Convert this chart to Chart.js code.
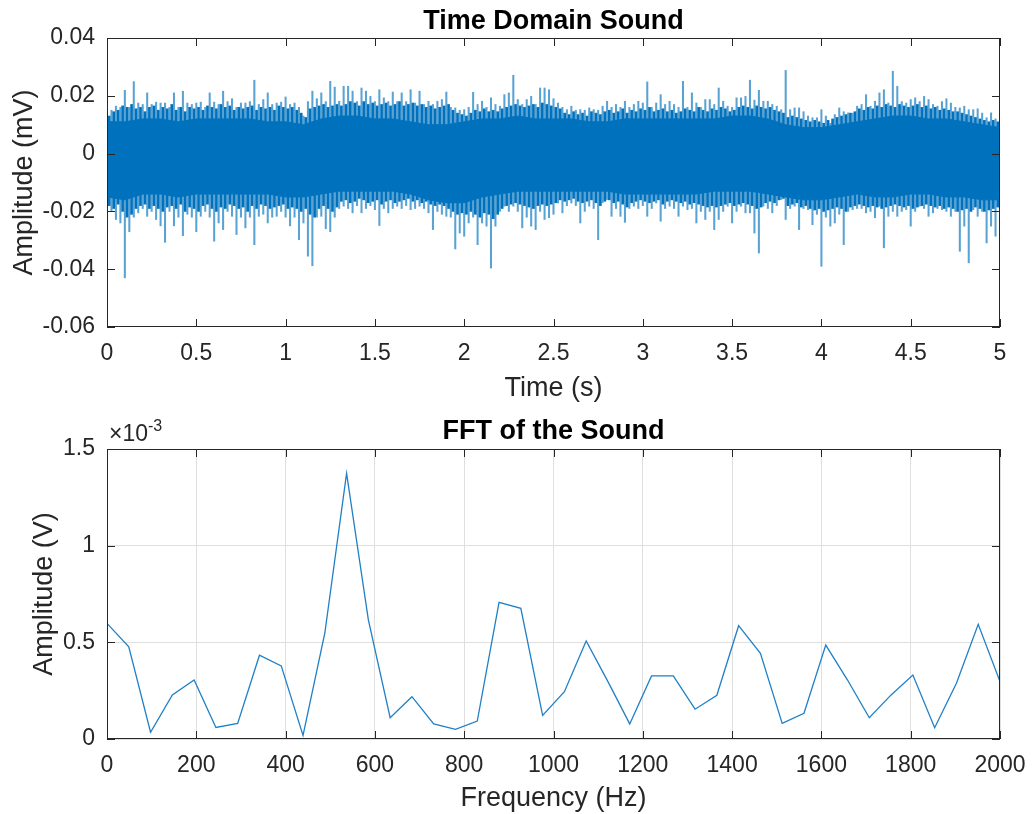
<!DOCTYPE html>
<html>
<head>
<meta charset="utf-8">
<script src="https://cdn.jsdelivr.net/npm/chart.js@4/dist/chart.umd.min.js"></script>
<style>
  html, body { margin: 0; padding: 0; background: #fff; }
  #wrap { position: relative; width: 1032px; height: 814px; }
  #wrap canvas { position: absolute; left: 0; }
  #time-chart { top: 0; }
  #fft-chart { top: 410px; }
</style>
</head>
<body>
<div id="wrap">
  <canvas id="time-chart" width="1032" height="410"></canvas>
  <canvas id="fft-chart" width="1032" height="404"></canvas>
</div>
<script>
// time domain: solid core of the signal (every 0.1 s), dense fringe (every 0.025 s, half step offset)
// and the spike extremes (every 0.025 s)
const coreStep = 0.1
const coreHi = [
  0.011, 0.011, 0.012, 0.012, 0.011, 0.012, 0.012, 0.012, 0.012, 0.011, 0.011, 0.010, 0.012,
  0.013, 0.013, 0.012, 0.012, 0.011, 0.010, 0.010, 0.011, 0.012, 0.012, 0.013, 0.012, 0.012,
  0.012, 0.011, 0.011, 0.012, 0.012, 0.012, 0.012, 0.012, 0.012, 0.013, 0.013, 0.012,
  0.010, 0.009, 0.009, 0.010, 0.011, 0.012, 0.013, 0.013, 0.012, 0.012, 0.011, 0.010, 0.009
]
const coreLo = [
  -0.015, -0.016, -0.014, -0.014, -0.015, -0.014, -0.014, -0.014, -0.014, -0.014, -0.015, -0.015, -0.014,
  -0.013, -0.013, -0.013, -0.013, -0.014, -0.016, -0.017, -0.017, -0.015, -0.014, -0.013, -0.013, -0.013,
  -0.013, -0.013, -0.013, -0.014, -0.014, -0.014, -0.014, -0.014, -0.013, -0.013, -0.013, -0.014,
  -0.015, -0.016, -0.016, -0.015, -0.014, -0.015, -0.015, -0.014, -0.014, -0.015, -0.015, -0.016, -0.016
]
const fringeHi = [
  0.013, 0.0145, 0.015, 0.0165, 0.016, 0.017, 0.0155, 0.016, 0.0145, 0.016,
  0.0165, 0.015, 0.016, 0.0155, 0.017, 0.015, 0.016, 0.0145, 0.016, 0.0155,
  0.016, 0.015, 0.0165, 0.016, 0.0155, 0.017, 0.016, 0.0165, 0.015, 0.016,
  0.0155, 0.016, 0.0165, 0.015, 0.016, 0.0155, 0.016, 0.015, 0.0165, 0.016,
  0.0155, 0.016, 0.015, 0.014, 0.0125, 0.0155, 0.016, 0.0165, 0.017, 0.016,
  0.0165, 0.017,
  0.0165, 0.017, 0.018, 0.0175, 0.0165, 0.018, 0.017, 0.0175, 0.0165, 0.017,
  0.0175, 0.0165, 0.017, 0.018, 0.0165, 0.017, 0.0175, 0.0165, 0.017, 0.016,
  0.0165, 0.0155, 0.016, 0.0165, 0.017, 0.015, 0.014, 0.0135, 0.013, 0.014,
  0.015, 0.0145, 0.0155, 0.0145, 0.015, 0.0145, 0.0155, 0.016, 0.0165, 0.017,
  0.0165, 0.016, 0.0165, 0.017, 0.016, 0.0175, 0.017, 0.0165, 0.016, 0.0155,
  0.014, 0.0135, 0.0145, 0.0135, 0.014, 0.013, 0.0145, 0.014, 0.0135, 0.0145,
  0.015, 0.014, 0.0145, 0.0155, 0.014, 0.015, 0.0145, 0.0155, 0.015, 0.016,
  0.0145, 0.015, 0.0155, 0.0145, 0.015, 0.014, 0.0145, 0.0155, 0.015, 0.0145,
  0.016, 0.015, 0.0145, 0.0155, 0.015, 0.016, 0.0155, 0.0145, 0.015, 0.016,
  0.0165, 0.016, 0.0155, 0.0165, 0.016, 0.0155, 0.016, 0.015, 0.0145, 0.014,
  0.0125, 0.013, 0.0125, 0.012, 0.0115, 0.011, 0.0115, 0.011, 0.0105, 0.0115,
  0.012, 0.0125, 0.013, 0.0135, 0.014, 0.0145, 0.0155, 0.015, 0.016, 0.0155,
  0.0165, 0.016, 0.017, 0.0165, 0.016, 0.017, 0.0165, 0.016, 0.0165, 0.017,
  0.016, 0.0165, 0.0155, 0.016, 0.015, 0.0155, 0.015, 0.0145, 0.0145, 0.014,
  0.0135, 0.013, 0.0125, 0.012, 0.0115, 0.011, 0.0115, 0.011
]
const fringeLo = [
  -0.018, -0.019, -0.0175, -0.02, -0.022, -0.021, -0.019, -0.018, -0.0175, -0.019,
  -0.018, -0.019, -0.02, -0.0185, -0.018, -0.019, -0.0175, -0.02, -0.0185, -0.019,
  -0.02, -0.018, -0.0175, -0.019, -0.02, -0.0185, -0.019, -0.0175, -0.018, -0.019,
  -0.0185, -0.02, -0.018, -0.019, -0.0175, -0.018, -0.019, -0.0185, -0.018, -0.0175,
  -0.019, -0.0185, -0.019, -0.02, -0.019, -0.021, -0.022, -0.019, -0.018, -0.019,
  -0.02, -0.0185,
  -0.0165, -0.016, -0.017, -0.0165, -0.0155, -0.016, -0.017, -0.0165, -0.016, -0.0175,
  -0.0165, -0.016, -0.017, -0.0165, -0.016, -0.0155, -0.0165, -0.016, -0.017, -0.0165,
  -0.0175, -0.018, -0.0175, -0.018, -0.019, -0.02, -0.021, -0.0205, -0.021, -0.02,
  -0.021, -0.022, -0.0205, -0.021, -0.0225, -0.021, -0.019, -0.018, -0.0175, -0.017,
  -0.0175, -0.018, -0.0185, -0.019, -0.018, -0.0175, -0.018, -0.0175, -0.017, -0.016,
  -0.0165, -0.016, -0.0155, -0.0165, -0.017, -0.0165, -0.016, -0.017, -0.018, -0.0165,
  -0.016, -0.017, -0.0165, -0.0175, -0.0185, -0.017, -0.0165, -0.016, -0.0165, -0.017,
  -0.0165, -0.016, -0.0175, -0.0165, -0.016, -0.0165, -0.017, -0.0165, -0.0175, -0.017,
  -0.0175, -0.018, -0.0185, -0.018, -0.0185, -0.018, -0.0175, -0.017, -0.018, -0.0175,
  -0.017, -0.0175, -0.018, -0.019, -0.0185, -0.017, -0.0165, -0.017, -0.016, -0.0155,
  -0.018, -0.0175, -0.017, -0.0185, -0.018, -0.019, -0.0195, -0.019, -0.02, -0.0195,
  -0.019, -0.0185, -0.019, -0.02, -0.0185, -0.018, -0.0175, -0.018, -0.0185, -0.018,
  -0.0185, -0.019, -0.0185, -0.018, -0.0175, -0.018, -0.0185, -0.018, -0.019, -0.0185,
  -0.018, -0.0175, -0.018, -0.0185, -0.018, -0.019, -0.0185, -0.019, -0.02, -0.0195,
  -0.019, -0.02, -0.0185, -0.019, -0.02, -0.0195, -0.019, -0.0185
]
const spikeStep = 0.025
const spikeHi = [
  0.014, 0.015, 0.0164, 0.016, 0.0219, 0.016, 0.0249, 0.0175, 0.017, 0.021, 0.017, 0.0178, 0.0175,
  0.0175, 0.016, 0.021, 0.016, 0.0216, 0.0175, 0.017, 0.0175, 0.0178, 0.016, 0.021, 0.0178, 0.017,
  0.0216, 0.018, 0.019, 0.016, 0.0175, 0.0175, 0.018, 0.0254, 0.017, 0.0187, 0.021, 0.017, 0.0175,
  0.0178, 0.0196, 0.017, 0.0175, 0.016, 0.013, 0.018, 0.0216, 0.019, 0.021, 0.018, 0.025, 0.023,
  0.0181, 0.0233, 0.0233, 0.0216, 0.018, 0.0227, 0.0216, 0.0198, 0.018, 0.0221, 0.0193, 0.018, 0.0213,
  0.018, 0.021, 0.018, 0.0221, 0.0175, 0.0216, 0.017, 0.0181, 0.017, 0.0181, 0.0187, 0.0213, 0.016,
  0.0158, 0.015, 0.0152, 0.016, 0.0212, 0.017, 0.0181, 0.016, 0.0193, 0.017, 0.0164, 0.0204, 0.021,
  0.0271, 0.0187, 0.017, 0.0187, 0.0198, 0.017, 0.0227, 0.0227, 0.0221, 0.019, 0.0175,
  0.016, 0.0152, 0.0164, 0.015, 0.0152, 0.015, 0.0158, 0.0152, 0.015, 0.0164, 0.0181, 0.016, 0.017,
  0.016, 0.0181, 0.016, 0.017, 0.0181, 0.0175, 0.0248, 0.016, 0.0175, 0.0204, 0.017, 0.0181, 0.017,
  0.016, 0.025, 0.016, 0.021, 0.0175, 0.016, 0.0187, 0.0187, 0.017, 0.0227, 0.0181, 0.0164, 0.016,
  0.0193, 0.0193, 0.0198, 0.0254, 0.0185, 0.0219, 0.0181, 0.0181, 0.017, 0.0164, 0.0152,
  0.0288, 0.0152, 0.0158, 0.0158, 0.0145, 0.013, 0.0124, 0.0124, 0.0152, 0.013, 0.0105, 0.0135, 0.0158,
  0.0145, 0.0141, 0.014, 0.0164, 0.017, 0.0204, 0.0164, 0.0181, 0.021, 0.0221, 0.0175, 0.0285, 0.0233,
  0.018, 0.0175, 0.0187, 0.0193, 0.018, 0.0198, 0.0187, 0.017, 0.0164, 0.018, 0.019, 0.0175, 0.016,
  0.0158, 0.0164, 0.0152, 0.0152, 0.0155, 0.014, 0.0124, 0.0141, 0.012, 0.0095
]
const spikeLo = [
  -0.027, -0.02, -0.0228, -0.024, -0.043, -0.027, -0.022, -0.0205, -0.019, -0.0217, -0.02, -0.0228, -0.025,
  -0.0307, -0.02, -0.025, -0.022, -0.0284, -0.021, -0.022, -0.027, -0.0217, -0.02, -0.022, -0.0303, -0.024,
  -0.0263, -0.02, -0.0217, -0.028, -0.022, -0.0257, -0.022, -0.0315, -0.0217, -0.021, -0.024, -0.022, -0.0217,
  -0.02, -0.022, -0.025, -0.022, -0.0298, -0.024, -0.0355, -0.0388, -0.022, -0.0217, -0.026, -0.027, -0.022,
  -0.019, -0.0182, -0.019, -0.0205, -0.018, -0.0205, -0.019, -0.018, -0.0194, -0.0249, -0.019, -0.0205, -0.019,
  -0.0182, -0.019, -0.018, -0.0194, -0.019, -0.0182, -0.019, -0.0205, -0.0263, -0.02, -0.021, -0.0217, -0.022,
  -0.033, -0.0275, -0.0286, -0.024, -0.022, -0.0315, -0.024, -0.0251, -0.0396, -0.0251, -0.02, -0.0182, -0.02,
  -0.0182, -0.02, -0.0257, -0.022, -0.0251, -0.0263, -0.02, -0.0228, -0.0222, -0.021, -0.0171,
  -0.0205, -0.018, -0.0171, -0.018, -0.024, -0.02, -0.0182, -0.019, -0.0298, -0.017, -0.0159, -0.0217, -0.019,
  -0.0217, -0.0238, -0.019, -0.0182, -0.019, -0.018, -0.0217, -0.019, -0.0171, -0.0234, -0.019, -0.0182, -0.019,
  -0.0217, -0.0182, -0.0194, -0.019, -0.024, -0.02, -0.0228, -0.02, -0.0263, -0.0228, -0.02, -0.0182, -0.024,
  -0.02, -0.0182, -0.0205, -0.0205, -0.0275, -0.0344, -0.0182, -0.019, -0.0205, -0.018, -0.0159,
  -0.0228, -0.019, -0.0182, -0.0263, -0.019, -0.0194, -0.0246, -0.021, -0.039, -0.022, -0.0251, -0.024, -0.021,
  -0.0315, -0.02, -0.0194, -0.019, -0.019, -0.0205, -0.02, -0.0222, -0.0182, -0.0326, -0.0217, -0.02, -0.0217,
  -0.02, -0.0194, -0.0251, -0.02, -0.0182, -0.019, -0.0217, -0.0205, -0.019, -0.0194, -0.02, -0.0217, -0.02,
  -0.0338, -0.0251, -0.0378, -0.0194, -0.0217, -0.02, -0.0309, -0.0251, -0.0286, -0.02
]
const timeTicks = [0, 0.5, 1, 1.5, 2, 2.5, 3, 3.5, 4, 4.5, 5]
const ampTicks = [-0.06, -0.04, -0.02, 0, 0.02, 0.04]

// FFT: 42 bins from 0 to 2000 Hz, amplitudes in units of 1e-3 V
const fftBinHz = 2000 / 41
const fftAmp = [
  0.598, 0.477, 0.035, 0.228, 0.305, 0.060, 0.081, 0.433, 0.378, 0.019, 0.547,
  1.374, 0.616, 0.110, 0.219, 0.078, 0.050, 0.093, 0.707, 0.676, 0.122,
  0.245, 0.507, 0.297, 0.078, 0.326, 0.326, 0.154, 0.226, 0.586, 0.443,
  0.081, 0.133, 0.486, 0.305, 0.110, 0.228, 0.331, 0.058, 0.288, 0.593, 0.297
]
const freqTicks = [0, 200, 400, 600, 800, 1000, 1200, 1400, 1600, 1800, 2000]
const fftTicks = [0, 0.5, 1, 1.5]

const FONT = "'Liberation Sans', Arial, Helvetica, sans-serif"
const INK = '#262626'
const BLUE = '#0072BD'

const coreTime = coreHi.map((v, i) => +(i * coreStep).toFixed(4))
const fringeTime = fringeHi.map((v, i) => +((i + 0.5) * spikeStep).toFixed(4))
const spikeTime = spikeHi.map((v, i) => +(i * spikeStep).toFixed(4))
const fftFreq = fftAmp.map((v, i) => i * fftBinHz)

// matlab style box, inward ticks on all four sides, titles and labels
const matlabAxes = {
  id: 'matlabAxes',
  afterDraw(chart, args, opts) {
    const { ctx, chartArea: a, scales: { x, y } } = chart
    const tick = 8
    ctx.save()
    ctx.strokeStyle = INK
    ctx.lineWidth = 1
    ctx.beginPath()
    x.ticks.forEach(t => {
      const px = Math.round(x.getPixelForValue(t.value)) + 0.5
      ctx.moveTo(px, a.bottom)
      ctx.lineTo(px, a.bottom - tick)
      ctx.moveTo(px, a.top)
      ctx.lineTo(px, a.top + tick)
    })
    y.ticks.forEach(t => {
      const py = Math.round(y.getPixelForValue(t.value)) + 0.5
      ctx.moveTo(a.left, py)
      ctx.lineTo(a.left + tick, py)
      ctx.moveTo(a.right, py)
      ctx.lineTo(a.right - tick, py)
    })
    ctx.stroke()
    ctx.strokeRect(Math.round(a.left) + 0.5, Math.round(a.top) + 0.5,
      Math.round(a.width) - 1, Math.round(a.height) - 1)

    const cx = (a.left + a.right) / 2
    ctx.fillStyle = '#000'
    ctx.font = `bold 27px ${FONT}`
    ctx.textAlign = 'center'
    ctx.textBaseline = 'alphabetic'
    ctx.fillText(opts.title, cx, opts.titleY)

    ctx.fillStyle = INK
    ctx.font = `27px ${FONT}`
    ctx.fillText(opts.xlabel, cx, opts.xlabelY)

    ctx.save()
    ctx.translate(opts.ylabelX, (a.top + a.bottom) / 2)
    ctx.rotate(-Math.PI / 2)
    ctx.fillText(opts.ylabel, 0, 0)
    ctx.restore()

    if (opts.exponent) {
      ctx.textAlign = 'left'
      ctx.font = `23px ${FONT}`
      ctx.fillText('\u00d710', a.left + 2, opts.exponentY)
      const w = ctx.measureText('\u00d710').width
      ctx.font = `16px ${FONT}`
      ctx.fillText(opts.exponent, a.left + 2 + w, opts.exponentY - 10)
    }
    ctx.restore()
  }
}

function scaleOpts(min, max, ticks, pad, size, fmt) {
  return {
    type: 'linear',
    min: min,
    max: max,
    offset: false,
    border: { display: false },
    grid: { display: false, drawTicks: false },
    afterBuildTicks: s => { s.ticks = ticks.map(v => ({ value: v })) },
    afterFit: s => {
      if (s.isHorizontal()) {
        s.height = size
        s.paddingLeft = 0
        s.paddingRight = 0
      } else {
        s.width = size
        s.paddingTop = 0
        s.paddingBottom = 0
      }
    },
    ticks: {
      padding: pad,
      color: INK,
      maxRotation: 0,
      autoSkip: false,
      font: { family: FONT, size: 23 },
      callback: fmt
    }
  }
}

function timeChart() {
  const ctx = document.getElementById('time-chart').getContext('2d')
  new Chart(ctx, {
    type: 'line',
    data: {
      datasets: [{
        data: coreTime.map((t, i) => ({ x: t, y: coreHi[i] })),
        borderColor: BLUE,
        borderWidth: 1,
        backgroundColor: BLUE,
        pointRadius: 0,
        fill: '+1',
        order: 1
      }, {
        data: coreTime.map((t, i) => ({ x: t, y: coreLo[i] })),
        borderColor: BLUE,
        borderWidth: 1,
        pointRadius: 0,
        fill: false,
        order: 1
      }, {
        type: 'bar',
        data: fringeTime.map((t, i) => ({ x: t, y: [fringeLo[i], fringeHi[i]] })),
        backgroundColor: BLUE,
        borderWidth: 0,
        barThickness: 2,
        grouped: false,
        order: 2
      }, {
        type: 'bar',
        data: spikeTime.map((t, i) => ({ x: t, y: [spikeLo[i], spikeHi[i]] })),
        backgroundColor: 'rgba(0, 114, 189, 0.65)',
        borderWidth: 0,
        barThickness: 1.4,
        grouped: false,
        order: 3
      }]
    },
    options: {
      responsive: false,
      animation: false,
      layout: { padding: { left: 0, right: 32, top: 38, bottom: 0 } },
      plugins: {
        legend: { display: false },
        tooltip: { enabled: false },
        matlabAxes: {
          title: 'Time Domain Sound', titleY: 29,
          xlabel: 'Time (s)', xlabelY: 396,
          ylabel: 'Amplitude (mV)', ylabelX: 32
        }
      },
      scales: {
        x: scaleOpts(0, 5, timeTicks, 13, 83, v => String(v)),
        y: scaleOpts(-0.06, 0.04, ampTicks, 12, 107, v => String(+v.toFixed(2)))
      }
    },
    plugins: [matlabAxes]
  })
}

function fftChart() {
  const ctx = document.getElementById('fft-chart').getContext('2d')
  const x = scaleOpts(0, 2000, freqTicks, 13, 75, v => String(v))
  const y = scaleOpts(0, 1.5, fftTicks, 12, 107, v => String(v))
  x.grid = { display: true, drawTicks: false, color: '#dfdfdf', lineWidth: 1 }
  y.grid = { display: true, drawTicks: false, color: '#dfdfdf', lineWidth: 1 }
  new Chart(ctx, {
    type: 'line',
    data: {
      datasets: [{
        data: fftFreq.map((f, i) => ({ x: f, y: fftAmp[i] })),
        borderColor: '#1f80c6',
        borderWidth: 1.3,
        pointRadius: 0,
        tension: 0,
        fill: false
      }]
    },
    options: {
      responsive: false,
      animation: false,
      layout: { padding: { left: 0, right: 32, top: 39, bottom: 0 } },
      plugins: {
        legend: { display: false },
        tooltip: { enabled: false },
        matlabAxes: {
          title: 'FFT of the Sound', titleY: 29,
          xlabel: 'Frequency (Hz)', xlabelY: 396,
          ylabel: 'Amplitude (V)', ylabelX: 52,
          exponent: '-3', exponentY: 31
        }
      },
      scales: { x: x, y: y }
    },
    plugins: [matlabAxes]
  })
}

timeChart()
fftChart()
</script>
</body>
</html>
